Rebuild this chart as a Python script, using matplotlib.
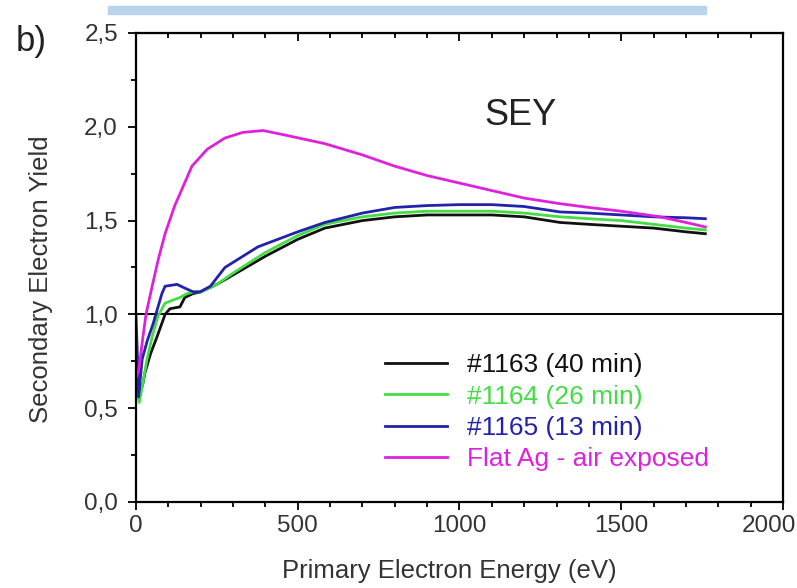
import matplotlib.pyplot as plt
from matplotlib.patches import Rectangle
from matplotlib.ticker import MultipleLocator, FuncFormatter

plt.rcParams["font.family"] = ["Liberation Sans", "DejaVu Sans"]

x_black = [3, 10, 20, 28, 45, 65, 90, 105, 136, 151, 175, 200, 250, 300, 400, 500, 584, 700, 800,
           900, 1000, 1100, 1200, 1311, 1400, 1500, 1600, 1700, 1760]
y_black = [0.70, 0.58, 0.62, 0.69, 0.79, 0.88, 1.00, 1.03, 1.04, 1.09, 1.11, 1.12, 1.16, 1.21, 1.31,
           1.40, 1.46, 1.50, 1.52, 1.53, 1.53, 1.53, 1.52, 1.49, 1.48, 1.47, 1.46, 1.44, 1.43]

x_green = [3, 10, 20, 34, 50, 68, 90, 136, 157, 180, 200, 250, 300, 400, 500, 584, 700, 800,
           900, 1000, 1100, 1200, 1311, 1400, 1500, 1600, 1700, 1760]
y_green = [0.60, 0.53, 0.62, 0.76, 0.88, 0.99, 1.06, 1.09, 1.11, 1.12, 1.12, 1.16, 1.22, 1.33,
           1.42, 1.48, 1.52, 1.54, 1.55, 1.55, 1.55, 1.54, 1.52, 1.51, 1.50, 1.48, 1.46, 1.45]

x_blue = [0, 5, 8, 19, 35, 53, 80, 90, 127, 151, 177, 198, 230, 275, 377, 500, 584, 700, 800,
          900, 1000, 1100, 1200, 1311, 1400, 1500, 1600, 1700, 1760]
y_blue = [1.00, 0.75, 0.56, 0.76, 0.86, 0.95, 1.11, 1.15, 1.16, 1.14, 1.12, 1.12, 1.15, 1.25, 1.36,
          1.44, 1.49, 1.54, 1.57, 1.58, 1.585, 1.585, 1.575, 1.546, 1.54, 1.53, 1.52, 1.515, 1.51]

x_mag = [3, 10, 20, 31, 50, 70, 90, 120, 173, 220, 275, 330, 393, 450, 584, 700, 800, 900, 1000,
         1100, 1200, 1311, 1400, 1500, 1620, 1700, 1760]
y_mag = [0.67, 0.72, 0.86, 1.00, 1.15, 1.30, 1.43, 1.58, 1.79, 1.88, 1.94, 1.97, 1.98, 1.96, 1.91,
         1.85, 1.79, 1.74, 1.70, 1.66, 1.62, 1.59, 1.57, 1.55, 1.52, 1.49, 1.466]

labels = ["#1163 (40 min)", "#1164 (26 min)", "#1165 (13 min)", "Flat Ag - air exposed"]
colors = ["#111111", "#44dd44", "#2222aa", "#dd22dd"]

fig = plt.figure(figsize=(7.97, 5.88), dpi=100)
ax = fig.add_axes([0.1706, 0.1463, 0.8118, 0.7976])

series = [(x_black, y_black), (x_green, y_green), (x_blue, y_blue), (x_mag, y_mag)]
for (xs, ys), lab, col in zip(series, labels, colors):
    ax.plot(xs, ys, color=col, lw=2.0, label=lab)

ax.axhline(1.0, color="black", lw=1.4, zorder=1)

ax.set_xlim(0, 2000)
ax.set_ylim(0, 2.5)
ax.xaxis.set_major_locator(MultipleLocator(500))
ax.xaxis.set_minor_locator(MultipleLocator(100))
ax.yaxis.set_major_locator(MultipleLocator(0.5))
ax.yaxis.set_minor_locator(MultipleLocator(0.25))
ax.yaxis.set_major_formatter(FuncFormatter(lambda v, p: f"{v:.1f}".replace(".", ",")))
# last x label is drawn separately so it can sit against the right edge
ax.xaxis.set_major_formatter(FuncFormatter(lambda v, p: "" if v >= 2000 else f"{v:.0f}"))

ax.tick_params(which="both", direction="out", colors="black", labelcolor="#333333",
               labelsize=17.5, width=1.3)
ax.tick_params(which="major", length=6)
ax.tick_params(which="minor", length=3.5)
ax.tick_params(axis="y", pad=7)
for sp in ax.spines.values():
    sp.set_linewidth(1.6)

ax.annotate("2000", xy=(2000, 0), xycoords="data", xytext=(-10, -9.5), textcoords="offset points",
            ha="center", va="top", fontsize=17.5, color="#333333", annotation_clip=False)

top = ax.secondary_xaxis("top")
top.xaxis.set_major_locator(MultipleLocator(500))
top.xaxis.set_minor_locator(MultipleLocator(100))
top.tick_params(which="both", direction="in", labeltop=False, width=1.3)
top.tick_params(which="major", length=6)
top.tick_params(which="minor", length=3.5)

ax.set_xlabel("Primary Electron Energy (eV)", fontsize=18.5, color="#333333")
ax.set_ylabel("Secondary Electron Yield", fontsize=18.5, color="#333333")
ax.xaxis.set_label_coords(0.485, -0.122)
ax.yaxis.set_label_coords(-0.128, 0.475)

ax.text(1190, 2.06, "SEY", fontsize=26, color="#222222", ha="center", va="center")

leg = ax.legend(loc="upper left", bbox_to_anchor=(0.385, 0.317), frameon=False, fontsize=19,
                labelcolor="linecolor", handlelength=2.35, handletextpad=0.76, labelspacing=0.28,
                borderaxespad=0, borderpad=0)

fig.text(0.02, 0.93, "b)", fontsize=25, color="#222222", va="center")
fig.patches.append(Rectangle((108 / 797, 1 - 14 / 588), 598 / 797, 8 / 588,
                             transform=fig.transFigure, color="#b9d3ea", zorder=0))

fig.savefig("out.png", dpi=100)
